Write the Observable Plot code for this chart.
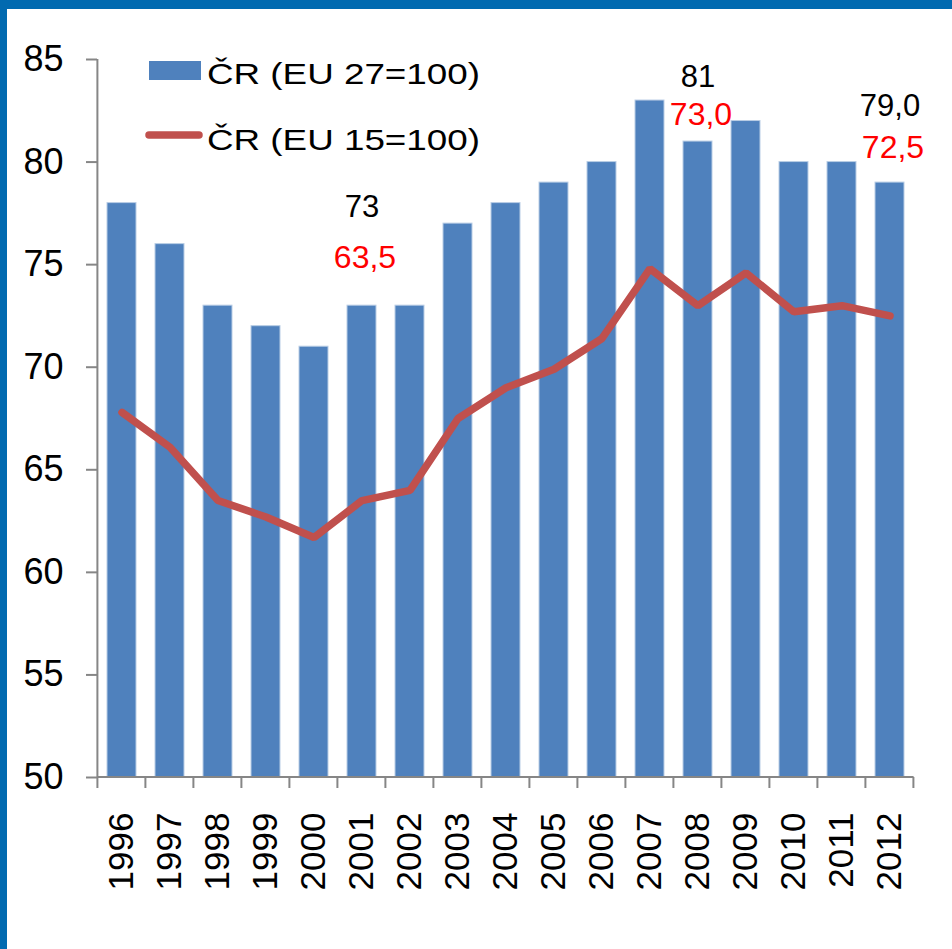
<!DOCTYPE html>
<html>
<head>
<meta charset="utf-8">
<script src="https://cdn.jsdelivr.net/npm/d3@7"></script>
<script src="https://cdn.jsdelivr.net/npm/@observablehq/plot@0.6"></script>
<style>
  html, body { margin: 0; padding: 0; background: #fff; }
  #wrap { position: relative; width: 952px; height: 949px; overflow: hidden; background: #fff; }
  #wrap svg { position: absolute; left: 0; top: 0; }
  .bt { position: absolute; left: 0; top: 0; width: 952px; height: 9px; background: #016AB0; }
  .bl { position: absolute; left: 0; top: 0; width: 7px; height: 949px; background: #016AB0; }
</style>
</head>
<body>
<div id="wrap"></div>
<script>
const years = ["1996","1997","1998","1999","2000","2001","2002","2003","2004","2005","2006","2007","2008","2009","2010","2011","2012"];
const eu27 = [78,76,73,72,71,73,73,77,78,79,80,83,81,82,80,80,79];
const eu15 = [67.8,66.1,63.5,62.7,61.7,63.5,64.0,67.5,69.0,69.9,71.4,74.8,73.0,74.6,72.7,73.0,72.5];
const yTicks = [50,55,60,65,70,75,80,85];

const blackYears = ["2001","2008","2012"];
const blackTexts = ["73","81","79,0"];
const blackY = [77.3, 83.65, 82.27];
const redYears = ["2001","2008","2012"];
const redTexts = ["63,5","73,0","72,5"];
const redY = [74.86, 81.83, 80.2];

const legendLabels = ["ČR (EU 27=100)", "ČR (EU 15=100)"];

const bars = years.map((y, i) => ({year: y, v: eu27[i]}));
const line = years.map((y, i) => ({year: y, v: eu15[i]}));
const blackAnn = blackYears.map((y, i) => ({year: y, t: blackTexts[i], v: blackY[i]}));
const redAnn = redYears.map((y, i) => ({year: y, t: redTexts[i], v: redY[i]}));

const FONT = "'Liberation Sans', Arial, sans-serif";

const chart = Plot.plot({
  width: 952,
  height: 949,
  marginLeft: 97,
  marginRight: 39,
  marginTop: 59,
  marginBottom: 172,
  style: {fontFamily: FONT, color: "#000", background: "transparent"},
  x: {domain: years, paddingInner: 0.4, paddingOuter: 0.2},
  y: {domain: [50, 85]},
  marks: [
    Plot.barY(bars, {x: "year", y1: 50, y2: "v", fill: "#4F81BD", stroke: "#B9CDE5", strokeWidth: 1}),
    Plot.line(line, {x: "year", y: "v", stroke: "#C0504D", strokeWidth: 7.5, strokeLinecap: "round", strokeLinejoin: "miter"}),
    Plot.axisY({ticks: yTicks, tickSize: 11, tickPadding: 23, fontSize: 36, stroke: "#868686", strokeWidth: 2, tickFormat: d => String(d), label: null}),
    Plot.axisX({tickSize: 0, tickRotate: -90, tickPadding: 35, fontSize: 35, label: null}),
    Plot.text(blackAnn, {x: "year", y: "v", text: "t", fill: "#000", fontSize: 31, lineAnchor: "bottom"}),
    Plot.text(redAnn, {x: "year", y: "v", text: "t", fill: "#FF0000", fontSize: 32, dx: 3, lineAnchor: "bottom"})
  ]
});

const svg = d3.select(chart);
const xs = chart.scale("x");
const ys = chart.scale("y");
const step = xs.step;
const x0 = xs.apply(years[0]) - step * xs.paddingOuter;
const x1 = xs.apply(years[years.length - 1]) + xs.bandwidth + step * xs.paddingOuter;
const yBottom = ys.apply(50);
const yTop = ys.apply(85);
const g = svg.append("g").attr("stroke", "#868686").attr("stroke-width", 2);
g.append("line").attr("x1", x0).attr("x2", x0).attr("y1", yTop).attr("y2", yBottom);
g.append("line").attr("x1", x0).attr("x2", x1).attr("y1", yBottom).attr("y2", yBottom);
const bounds = d3.range(years.length + 1).map(i => x0 + i * step);
g.selectAll("line.bt").data(bounds).join("line")
  .attr("x1", d => d).attr("x2", d => d).attr("y1", yBottom).attr("y2", yBottom + 11);

// legend
const lg = svg.append("g");
lg.append("rect").attr("x", 149).attr("y", 61).attr("width", 52).attr("height", 19).attr("fill", "#4F81BD");
lg.append("line").attr("x1", 149).attr("x2", 199).attr("y1", 135).attr("y2", 135)
  .attr("stroke", "#C0504D").attr("stroke-width", 7.5).attr("stroke-linecap", "round");
lg.selectAll("text").data(legendLabels).join("text")
  .attr("x", 207).attr("y", (d, i) => i === 0 ? 84 : 150)
  .attr("text-anchor", "start")
  .attr("font-family", FONT).attr("font-size", 30)
  .attr("textLength", 273).attr("lengthAdjust", "spacingAndGlyphs")
  .attr("fill", "#000")
  .text(d => d);

const wrap = document.getElementById("wrap");
wrap.appendChild(chart);
const bt = document.createElement("div"); bt.className = "bt"; wrap.appendChild(bt);
const bl = document.createElement("div"); bl.className = "bl"; wrap.appendChild(bl);
</script>
</body>
</html>
